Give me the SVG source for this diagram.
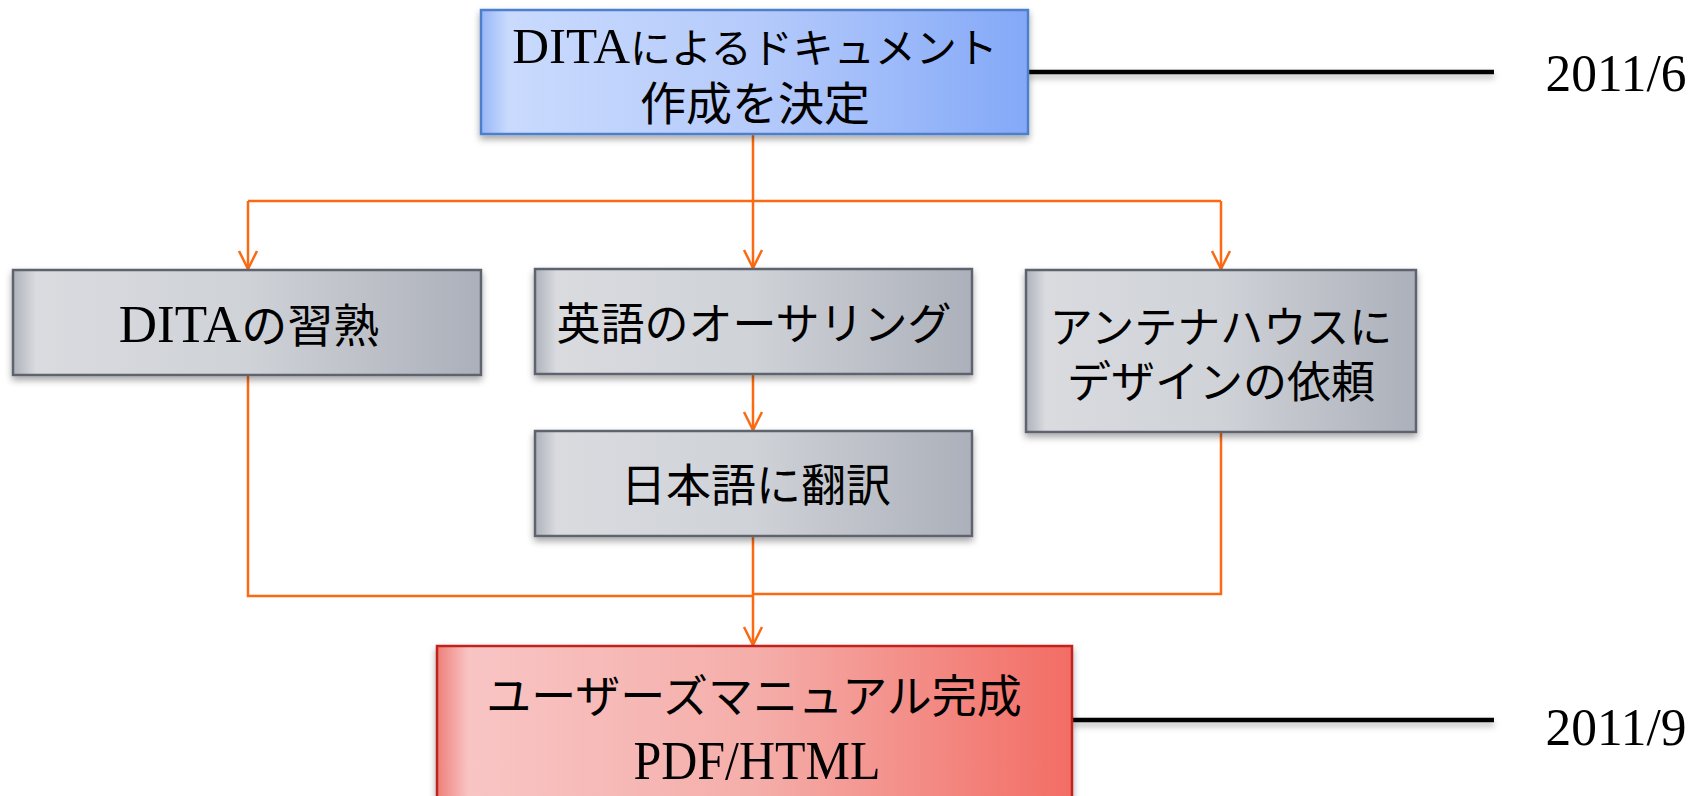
<svg xmlns="http://www.w3.org/2000/svg" width="1706" height="796" viewBox="0 0 1706 796">
<defs>
<style>
.t{font-family:"Liberation Serif","Noto Sans CJK JP",serif;fill:#000;text-anchor:middle}
.lat{font-family:"Liberation Serif",serif}
.conn{fill:none;stroke:#fb6a12;stroke-width:2.5}
.tl{fill:none;stroke:#000;stroke-width:4.5}
.gbox{fill:url(#gGray);stroke:#5e636d;stroke-width:2.5}
</style>
<linearGradient id="gGray" x1="0" y1="0" x2="1" y2="0">
<stop offset="0" stop-color="#aeb2bb"/>
<stop offset="0.05" stop-color="#d9dbdf"/>
<stop offset="0.5" stop-color="#cfd2d7"/>
<stop offset="1" stop-color="#acb0ba"/>
</linearGradient>
<linearGradient id="gBlue" x1="0" y1="0" x2="1" y2="0">
<stop offset="0" stop-color="#98b7f8"/>
<stop offset="0.05" stop-color="#c9dafd"/>
<stop offset="0.5" stop-color="#b6cbfb"/>
<stop offset="1" stop-color="#84a9f8"/>
</linearGradient>
<linearGradient id="gRed" x1="0" y1="0" x2="1" y2="0">
<stop offset="0" stop-color="#ef7f7a"/>
<stop offset="0.05" stop-color="#f8c5c4"/>
<stop offset="0.5" stop-color="#f5aeaa"/>
<stop offset="1" stop-color="#f26d65"/>
</linearGradient>
<filter id="sh" x="-10%" y="-10%" width="120%" height="130%">
<feDropShadow dx="0" dy="4" stdDeviation="3.5" flood-color="#000" flood-opacity="0.35"/>
</filter>
<filter id="shl" filterUnits="userSpaceOnUse" x="0" y="0" width="1706" height="796">
<feDropShadow dx="0" dy="4" stdDeviation="3" flood-color="#000" flood-opacity="0.3"/>
</filter>
<marker id="arr" viewBox="-20 -12 24 24" refX="0" refY="0" markerWidth="24" markerHeight="24" markerUnits="userSpaceOnUse" orient="auto" overflow="visible">
<path d="M-18,-9 L0,0 L-18,9" fill="none" stroke="#fb6a12" stroke-width="2.5"/>
</marker>
</defs>
<rect width="1706" height="796" fill="#fff"/>

<g id="timeline">
<line class="tl" x1="1028" y1="72" x2="1494" y2="72" filter="url(#shl)"/>
<line class="tl" x1="1072" y1="720" x2="1494" y2="720" filter="url(#shl)"/>
<text class="t lat" x="1616" y="91" font-size="53" textLength="141" lengthAdjust="spacingAndGlyphs">2011/6</text>
<text class="t lat" x="1616" y="745" font-size="53" textLength="141" lengthAdjust="spacingAndGlyphs">2011/9</text>
</g>

<g id="connectors">
<path class="conn" d="M753 134 V201"/>
<path class="conn" d="M248 201 H1221"/>
<path class="conn" d="M248 201 V269" marker-end="url(#arr)"/>
<path class="conn" d="M753 201 V268" marker-end="url(#arr)"/>
<path class="conn" d="M1221 201 V269" marker-end="url(#arr)"/>
<path class="conn" d="M753 374 V430" marker-end="url(#arr)"/>
<path class="conn" d="M248 375 V596 H753"/>
<path class="conn" d="M1221 432 V594 H753"/>
<path class="conn" d="M753 536 V645" marker-end="url(#arr)"/>
</g>

<g id="n_decide">
<rect x="481" y="10" width="547" height="124" fill="url(#gBlue)" stroke="#4d7fcb" stroke-width="2.5" filter="url(#sh)"/>
<text class="t" x="755" y="63" font-size="41"><tspan class="lat" font-size="51">DITA</tspan>によるドキュメント</text>
<text class="t" x="755" y="120" font-size="46">作成を決定</text>
</g>

<g id="n_dita">
<rect class="gbox" x="13" y="270" width="468" height="105" filter="url(#sh)"/>
<text class="t" x="249" y="342" font-size="46"><tspan class="lat" font-size="53">DITA</tspan>の習熟</text>
</g>

<g id="n_english">
<rect class="gbox" x="535" y="269" width="437" height="105" filter="url(#sh)"/>
<text class="t" x="754" y="340" font-size="44">英語のオーサリング</text>
</g>

<g id="n_design">
<rect class="gbox" x="1026" y="270" width="390" height="162" filter="url(#sh)"/>
<text class="t" x="1221" y="343" font-size="43">アンテナハウスに</text>
<text class="t" x="1221" y="398" font-size="44">デザインの依頼</text>
</g>

<g id="n_japanese">
<rect class="gbox" x="535" y="431" width="437" height="105" filter="url(#sh)"/>
<text class="t" x="756" y="502" font-size="45">日本語に翻訳</text>
</g>

<g id="n_manual">
<rect x="437" y="646" width="635" height="170" fill="url(#gRed)" stroke="#c0231c" stroke-width="2.5" filter="url(#sh)"/>
<text class="t" x="754" y="713" font-size="45">ユーザーズマニュアル完成</text>
<text class="t lat" x="757" y="779" font-size="55" textLength="247" lengthAdjust="spacingAndGlyphs">PDF/HTML</text>
</g>
</svg>
